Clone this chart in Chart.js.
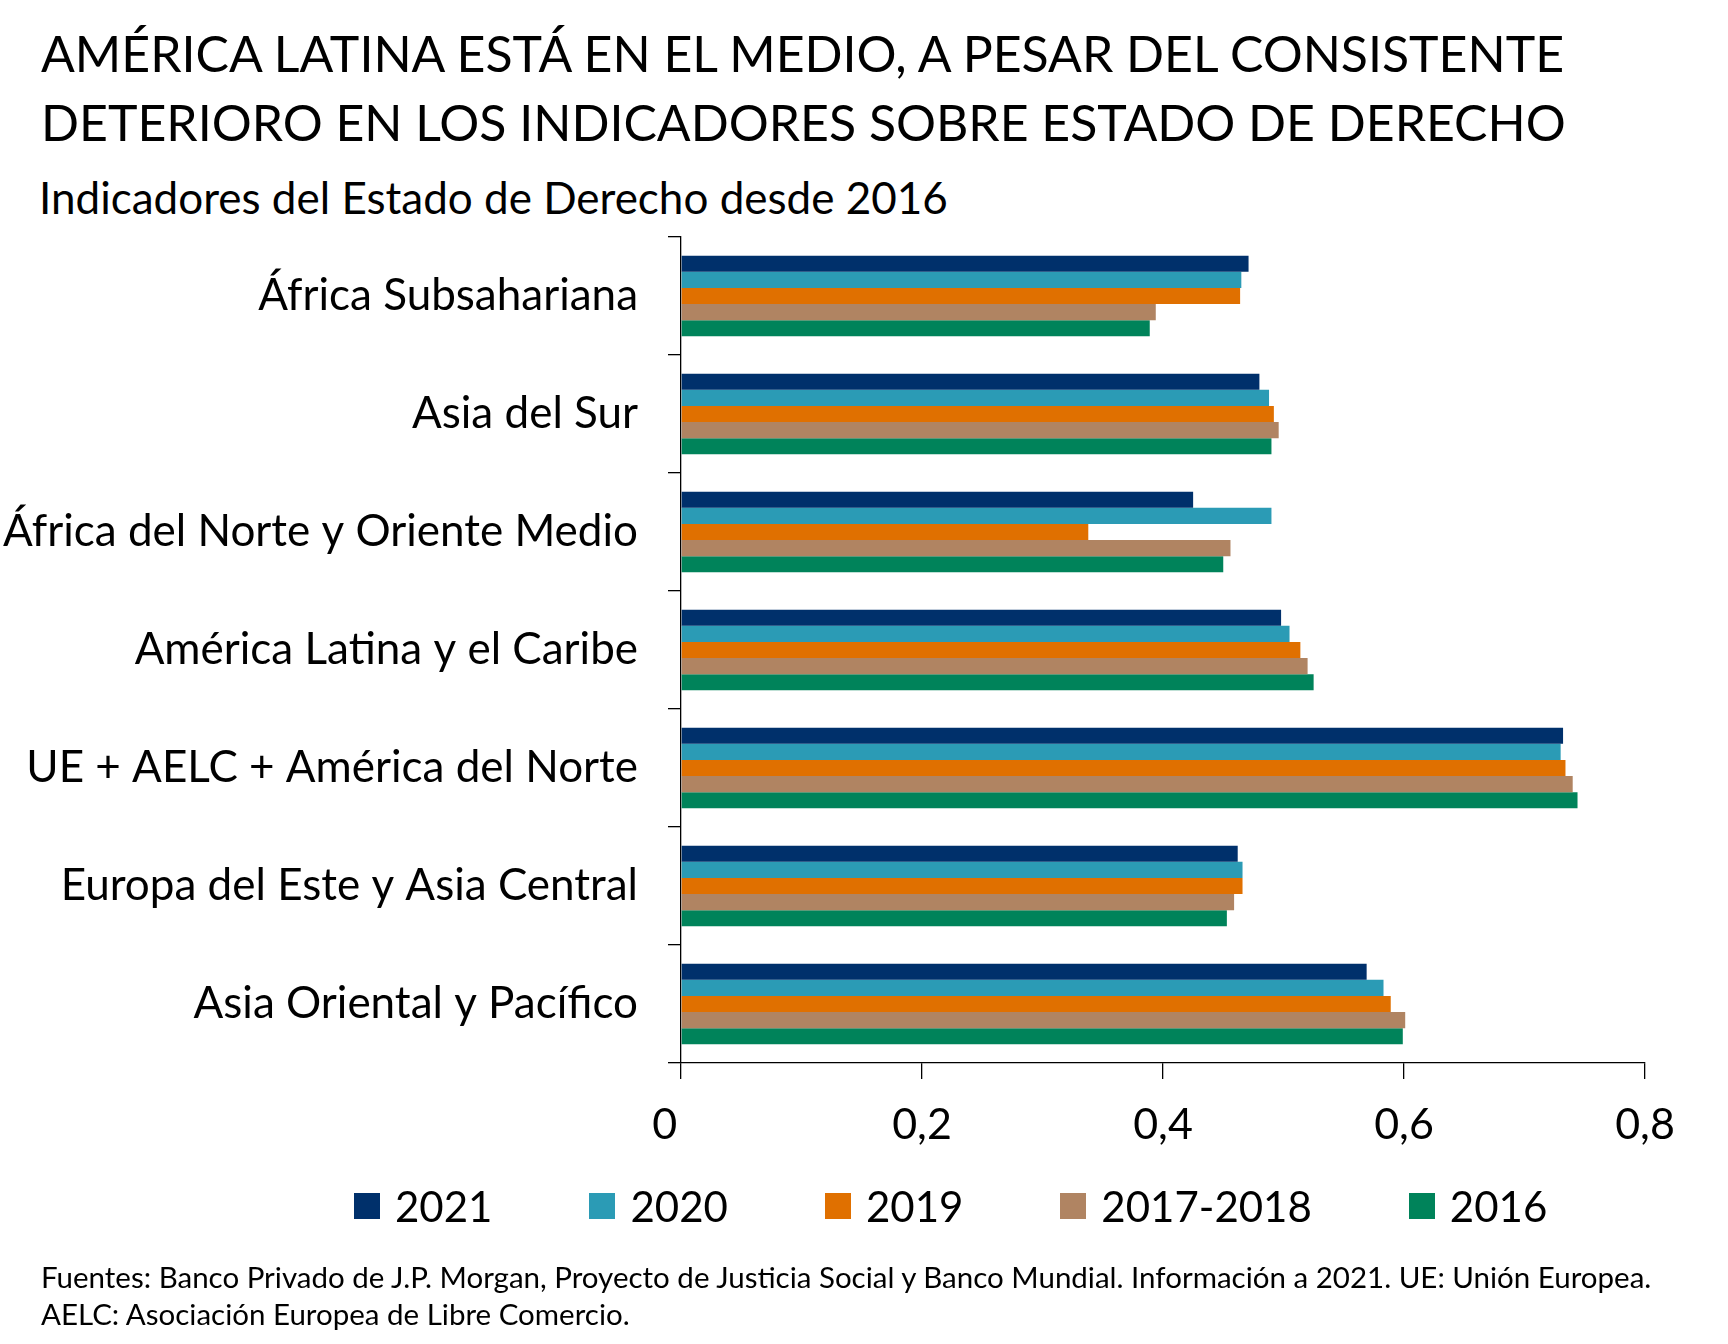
<!DOCTYPE html>
<html lang="es">
<head>
<meta charset="utf-8">
<title>Indicadores del Estado de Derecho desde 2016</title>
<script src="https://cdn.jsdelivr.net/npm/chart.js@4.4.1/dist/chart.umd.min.js"></script>
<style>
  html, body { margin: 0; padding: 0; background: #fff; }
  body { width: 1728px; height: 1344px; position: relative; overflow: hidden; font-family: "Lato", sans-serif; color: #000; }
  .txt { position: absolute; left: 41px; line-height: 1; white-space: nowrap; }
  .title { font-size: 50px; }
  .subtitle { font-size: 44px; left: 39px; }
  .note { font-size: 29.5px; }
  #chart-wrap { position: absolute; left: 0; top: 0; width: 1728px; height: 1344px; }
  #legend { position: absolute; left: 354px; top: 1185px; display: flex; align-items: center; font-size: 42px; line-height: 1; }
  .legend-item { display: flex; align-items: center; margin-right: 97px; }
  .legend-box { width: 26px; height: 26px; margin-right: 15px; }
</style>
</head>
<body>
<div class="txt title" style="top:28px">AMÉRICA LATINA ESTÁ EN EL MEDIO, A PESAR DEL CONSISTENTE</div>
<div class="txt title" style="top:97px">DETERIORO EN LOS INDICADORES SOBRE ESTADO DE DERECHO</div>
<div class="txt subtitle" style="top:175px">Indicadores del Estado de Derecho desde 2016</div>

<div id="chart-wrap"><canvas id="chart"></canvas></div>

<div id="legend"></div>

<div class="txt note" style="top:1262px">Fuentes: Banco Privado de J.P. Morgan, Proyecto de Justicia Social y Banco Mundial. Información a 2021. UE: Unión Europea.</div>
<div class="txt note" style="top:1299px">AELC: Asociación Europea de Libre Comercio.</div>

<script>
const regions = [
  "África Subsahariana",
  "Asia del Sur",
  "África del Norte y Oriente Medio",
  "América Latina y el Caribe",
  "UE + AELC + América del Norte",
  "Europa del Este y Asia Central",
  "Asia Oriental y Pacífico",
];

const seriesNames = ["2021", "2020", "2019", "2017-2018", "2016"];
const seriesColors = ["#00306b", "#2b9bb5", "#e07000", "#b08462", "#00835a"];

const values2021 = [0.471, 0.480, 0.425, 0.498, 0.732, 0.462, 0.569];
const values2020 = [0.465, 0.488, 0.490, 0.505, 0.730, 0.466, 0.583];
const values2019 = [0.464, 0.492, 0.338, 0.514, 0.734, 0.466, 0.589];
const values2017_2018 = [0.394, 0.496, 0.456, 0.520, 0.740, 0.459, 0.601];
const values2016 = [0.389, 0.490, 0.450, 0.525, 0.744, 0.453, 0.599];

const xTicks = [0, 0.2, 0.4, 0.6, 0.8];
const xTickLabels = ["0", "0,2", "0,4", "0,6", "0,8"];

const seriesValues = [values2021, values2020, values2019, values2017_2018, values2016];

// legend as html, the chart legend can't be placed off-center
const legendEl = document.getElementById("legend");
seriesNames.forEach((name, i) => {
  const item = document.createElement("div");
  item.className = "legend-item";
  const box = document.createElement("span");
  box.className = "legend-box";
  box.style.background = seriesColors[i];
  const label = document.createElement("span");
  label.textContent = name;
  item.appendChild(box);
  item.appendChild(label);
  legendEl.appendChild(item);
});

const axisColor = "#000";

new Chart(document.getElementById("chart").getContext("2d"), {
  type: "bar",
  data: {
    labels: regions,
    datasets: seriesNames.map((name, i) => ({
      label: name,
      data: seriesValues[i],
      backgroundColor: seriesColors[i],
      borderWidth: 0,
      categoryPercentage: 0.684,
      barPercentage: 1.0,
    })),
  },
  options: {
    indexAxis: "y",
    responsive: true,
    maintainAspectRatio: false,
    animation: false,
    layout: { padding: { top: 237, right: 83, bottom: 191, left: 0 } },
    plugins: {
      legend: { display: false },
      tooltip: { enabled: false },
    },
    scales: {
      x: {
        min: 0,
        max: 0.8,
        afterBuildTicks: (scale) => {
          scale.ticks = xTicks.map((v) => ({ value: v }));
        },
        afterFit: (scale) => {
          scale.height = 90;
        },
        ticks: {
          color: "#000",
          font: { family: "Lato", size: 43 },
          padding: 20,
          maxRotation: 0,
          callback: function (value) {
            const idx = xTicks.findIndex((t) => Math.abs(t - value) < 1e-9);
            const text = idx >= 0 ? xTickLabels[idx] : "";
            // the zero label sits a bit left of its tick in the original
            return idx === 0 ? text + "\u2002 " : text;
          },
        },
        grid: {
          drawOnChartArea: false,
          drawTicks: true,
          tickLength: 16,
          color: axisColor,
          lineWidth: 1.3,
        },
        border: { display: true, color: axisColor, width: 1.3 },
      },
      y: {
        afterFit: (scale) => {
          scale.width = 681;
        },
        ticks: {
          color: "#000",
          font: { family: "Lato", size: 44 },
          padding: 30,
        },
        grid: {
          drawOnChartArea: false,
          drawTicks: true,
          tickLength: 13,
          color: axisColor,
          lineWidth: 1.3,
        },
        border: { display: true, color: axisColor, width: 1.3 },
      },
    },
  },
});
</script>
</body>
</html>
